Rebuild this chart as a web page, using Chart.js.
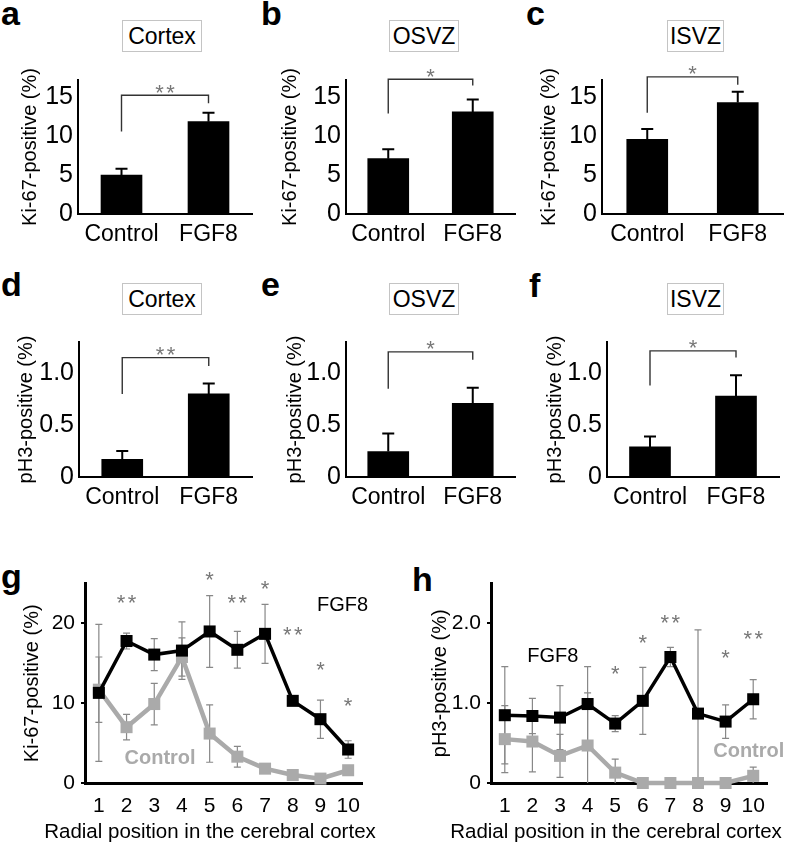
<!DOCTYPE html>
<html>
<head>
<meta charset="utf-8">
<script src="https://cdn.jsdelivr.net/npm/chart.js@4.4.1/dist/chart.umd.min.js"></script>
<style>
  html, body { margin: 0; padding: 0; background: #fff; }
  #fig { position: relative; width: 787px; height: 844px; overflow: hidden; font-family: "Liberation Sans", Arial, sans-serif; color: #000; }
  canvas { position: absolute; }
  .tag { position: absolute; font-weight: bold; font-size: 34px; line-height: 34px; }
  .region { position: absolute; box-sizing: border-box; height: 32px; border: 1px solid #c4c4c4; font-size: 23px; line-height: 30px; text-align: center; }
</style>
</head>
<body>
<div id="fig">
  <div class="tag" style="left:1px;top:-4px">a</div>
  <div class="tag" style="left:261px;top:-4px">b</div>
  <div class="tag" style="left:526px;top:-4px">c</div>
  <div class="tag" style="left:1px;top:267px">d</div>
  <div class="tag" style="left:261px;top:267px">e</div>
  <div class="tag" style="left:529px;top:268px">f</div>
  <div class="tag" style="left:1px;top:559px">g</div>
  <div class="tag" style="left:412px;top:562px">h</div>

  <div class="region" style="left:122px;top:20px;width:80px">Cortex</div>
  <div class="region" style="left:389px;top:20px;width:70px">OSVZ</div>
  <div class="region" style="left:667px;top:20px;width:57px">ISVZ</div>
  <div class="region" style="left:122px;top:283px;width:80px">Cortex</div>
  <div class="region" style="left:389px;top:283px;width:70px">OSVZ</div>
  <div class="region" style="left:667px;top:283px;width:57px">ISVZ</div>

  <canvas id="chartA" width="262" height="200" style="left:0px;top:60px"></canvas>
  <canvas id="chartB" width="262" height="200" style="left:262px;top:60px"></canvas>
  <canvas id="chartC" width="263" height="200" style="left:524px;top:60px"></canvas>
  <canvas id="chartD" width="262" height="200" style="left:0px;top:322px"></canvas>
  <canvas id="chartE" width="262" height="200" style="left:262px;top:322px"></canvas>
  <canvas id="chartF" width="263" height="200" style="left:524px;top:322px"></canvas>
  <canvas id="chartG" width="400" height="279" style="left:0px;top:565px"></canvas>
  <canvas id="chartH" width="387" height="279" style="left:400px;top:565px"></canvas>
</div>
<script>
Chart.defaults.font.family = '"Liberation Sans", Arial, sans-serif';
Chart.defaults.color = '#000';

// bar panels (a-f): mean and SEM for Control / FGF8
const groups = ['Control', 'FGF8'];
const ki67Cortex = [5.0, 11.85];
const ki67CortexErr = [0.8, 1.15];
const ki67Osvz = [7.1, 13.1];
const ki67OsvzErr = [1.2, 1.6];
const ki67Isvz = [9.6, 14.3];
const ki67IsvzErr = [1.3, 1.4];
const ph3Cortex = [0.17, 0.80];
const ph3CortexErr = [0.08, 0.10];
const ph3Osvz = [0.245, 0.71];
const ph3OsvzErr = [0.175, 0.15];
const ph3Isvz = [0.29, 0.78];
const ph3IsvzErr = [0.10, 0.20];
// significance brackets: [top, left end, right end] in axis units
const sigLabels = ['**', '*', '*', '**', '*', '*'];
const sigLevels = [[15.25, 10.6, 14.2], [17.3, 12.9, 16.5], [17.6, 13.0, 16.6],
                   [1.15, 0.80, 1.07], [1.205, 0.85, 1.13], [1.215, 0.88, 1.15]];

// line panels (g, h): radial position 1..10
const positions = ['1', '2', '3', '4', '5', '6', '7', '8', '9', '10'];
const ki67Fgf8 = [11.3, 17.8, 16.1, 16.6, 19.0, 16.7, 18.7, 10.3, 8.0, 4.2];
const ki67Fgf8Err = [8.6, 1.0, 2.0, 3.6, 4.5, 2.3, 3.7, 0.3, 2.4, 1.1];
const ki67Control = [11.7, 7.0, 9.9, 15.8, 6.2, 3.3, 1.8, 1.0, 0.55, 1.6];
const ki67ControlErr = [4.1, 1.6, 2.6, 2.4, 3.6, 1.3, 0.4, 0.3, 0.3, 0.4];
const ki67Stars = ['', '**', '', '', '*', '**', '*', '**', '*', '*'];
const ki67StarY = [0, 23.2, 0, 0, 26.1, 23.2, 25.0, 19.3, 14.8, 10.3];
const ph3Fgf8 = [0.85, 0.84, 0.82, 0.99, 0.745, 1.03, 1.58, 0.87, 0.77, 1.05];
const ph3Fgf8Err = [0.61, 0.22, 0.40, 0.47, 0.10, 0.42, 0.12, 1.05, 0.21, 0.245];
const ph3Control = [0.55, 0.52, 0.34, 0.47, 0.13, 0, 0, 0, 0, 0.09];
const ph3ControlErr = [0.42, 0.38, 0.27, 0.66, 0.17, 0, 0, 0, 0, 0.11];
const ph3Stars = ['', '', '', '', '*', '*', '**', '', '*', '**'];
const ph3StarY = [0, 0, 0, 0, 1.44, 1.83, 2.08, 0, 1.64, 1.88];

const FONT = '"Liberation Sans", Arial, sans-serif';

function drawStars(ctx, label, cx, cy) {
  const size = 22;
  ctx.save();
  ctx.fillStyle = '#777';
  ctx.font = size + 'px ' + FONT;
  ctx.textAlign = 'center';
  ctx.textBaseline = 'alphabetic';
  for (let i = 0; i < label.length; i++) {
    ctx.fillText('*', cx + (i - (label.length - 1) / 2) * 11, cy + 0.57 * size);
  }
  ctx.restore();
}

function drawErrorBars(chart, o) {
  const {ctx, chartArea} = chart;
  const y = chart.scales.y;
  ctx.save();
  ctx.beginPath();
  ctx.rect(chartArea.left - 10, chartArea.top - 40, chartArea.width + 20, chartArea.height + 40);
  ctx.clip();
  ctx.strokeStyle = o.color;
  ctx.lineWidth = o.width;
  chart.data.datasets.forEach((ds, i) => {
    if (!ds.err) return;
    chart.getDatasetMeta(i).data.forEach((el, j) => {
      const v = ds.data[j], e = ds.err[j];
      if (!e) return;
      const yt = y.getPixelForValue(v + e);
      const yb = y.getPixelForValue(o.up ? v : v - e);
      ctx.beginPath();
      ctx.moveTo(el.x, yb);
      ctx.lineTo(el.x, yt);
      ctx.moveTo(el.x - o.cap, yt);
      ctx.lineTo(el.x + o.cap, yt);
      if (!o.up) {
        ctx.moveTo(el.x - o.cap, yb);
        ctx.lineTo(el.x + o.cap, yb);
      }
      ctx.stroke();
    });
  });
  ctx.restore();
}

const errorBars = {
  id: 'errorBars',
  beforeDatasetsDraw(chart, args, o) { if (o.behind) drawErrorBars(chart, o); },
  afterDatasetsDraw(chart, args, o) { if (!o.behind) drawErrorBars(chart, o); }
};

const sigBracket = {
  id: 'sigBracket',
  afterDraw(chart, args, o) {
    const {ctx} = chart;
    const x = chart.scales.x, y = chart.scales.y;
    const x0 = x.getPixelForValue(0), x1 = x.getPixelForValue(1);
    const yt = y.getPixelForValue(o.levels[0]);
    ctx.save();
    ctx.strokeStyle = '#333';
    ctx.lineWidth = 1.4;
    ctx.beginPath();
    ctx.moveTo(x0, y.getPixelForValue(o.levels[1]));
    ctx.lineTo(x0, yt);
    ctx.lineTo(x1, yt);
    ctx.lineTo(x1, y.getPixelForValue(o.levels[2]));
    ctx.stroke();
    ctx.restore();
    drawStars(ctx, o.label, (x0 + x1) / 2, yt - 8);
  }
};

const curveNotes = {
  id: 'curveNotes',
  afterDraw(chart, args, o) {
    const {ctx} = chart;
    const x = chart.scales.x, y = chart.scales.y;
    o.stars.forEach((s, j) => {
      if (s) drawStars(ctx, s, x.getPixelForValue(j), y.getPixelForValue(o.starY[j]));
    });
    ctx.save();
    ctx.textAlign = 'center';
    ctx.textBaseline = 'middle';
    o.texts.forEach(t => {
      ctx.fillStyle = t.color;
      ctx.font = (t.bold ? 'bold ' : '') + '20px ' + FONT;
      ctx.fillText(t.text, x.getPixelForValue(t.x), y.getPixelForValue(t.y));
    });
    // x axis title, wider than the plot area in the original figure
    ctx.fillStyle = '#000';
    ctx.font = '20.5px ' + FONT;
    ctx.fillText(o.xTitle, o.xTitleX, chart.height - 12);
    ctx.restore();
  }
};

function barPanel(id, values, errs, k, yMax, yStep, yTitle, g) {
  new Chart(document.getElementById(id), {
    type: 'bar',
    data: {
      labels: groups,
      datasets: [{ data: values, err: errs, backgroundColor: '#000', barThickness: 41 }]
    },
    options: {
      responsive: false,
      animation: false,
      layout: { padding: { top: 15, right: g.right, left: 0, bottom: 0 } },
      plugins: {
        legend: { display: false },
        tooltip: { enabled: false },
        errorBars: { up: true, color: '#000', width: 2, cap: 6, behind: false },
        sigBracket: { label: sigLabels[k], levels: sigLevels[k] }
      },
      scales: {
        x: {
          grid: { display: false, drawTicks: false },
          border: { display: true, color: '#000', width: 2 },
          ticks: { font: { size: 23 }, padding: 7, color: '#000' },
          afterFit: s => { s.height = g.xh; }
        },
        y: {
          min: 0, max: yMax,
          grid: { display: false, drawTicks: false },
          border: { display: true, color: '#000', width: 2 },
          ticks: {
            stepSize: yStep, includeBounds: false, padding: 5, color: '#000',
            font: { size: 25 },
            callback: v => (v === 0 ? '0' : (yStep < 1 ? v.toFixed(1) : String(v)))
          },
          title: { display: true, text: yTitle, font: { size: 20 }, color: '#000', padding: { top: g.tp, bottom: 0 } },
          afterFit: s => { s.width = g.yw; }
        }
      }
    },
    plugins: [errorBars, sigBracket]
  });
}

barPanel('chartA', ki67Cortex, ki67CortexErr, 0, 17.2, 5, 'Ki-67-positive (%)', { yw: 78, right: 10, xh: 46, tp: 18 });
barPanel('chartB', ki67Osvz, ki67OsvzErr, 1, 17.2, 5, 'Ki-67-positive (%)', { yw: 84, right: 9, xh: 46, tp: 16 });
barPanel('chartC', ki67Isvz, ki67IsvzErr, 2, 17.2, 5, 'Ki-67-positive (%)', { yw: 78, right: 4, xh: 46, tp: 13 });
barPanel('chartD', ph3Cortex, ph3CortexErr, 3, 1.3, 0.5, 'pH3-positive (%)', { yw: 79, right: 10, xh: 45, tp: 14 });
barPanel('chartE', ph3Osvz, ph3OsvzErr, 4, 1.3, 0.5, 'pH3-positive (%)', { yw: 84, right: 9, xh: 45, tp: 21 });
barPanel('chartF', ph3Isvz, ph3IsvzErr, 5, 1.3, 0.5, 'pH3-positive (%)', { yw: 83, right: 8, xh: 45, tp: 19 });

function linePanel(id, fgf8, fgf8Err, ctrl, ctrlErr, stars, starY, yMax, yStep, yTitle, texts, g) {
  new Chart(document.getElementById(id), {
    type: 'line',
    data: {
      labels: positions,
      datasets: [
        { data: fgf8, err: fgf8Err, borderColor: '#000', backgroundColor: '#000', borderWidth: 3.5,
          pointStyle: 'rect', pointRadius: 8.5, pointBorderWidth: 0, tension: 0, clip: false },
        { data: ctrl, err: ctrlErr, borderColor: '#aaa', backgroundColor: '#aaa', borderWidth: 4.5,
          pointStyle: 'rect', pointRadius: 8.5, pointBorderWidth: 0, tension: 0, clip: false }
      ]
    },
    options: {
      responsive: false,
      animation: false,
      layout: { padding: { top: 18, right: g.right, left: 0, bottom: 0 } },
      plugins: {
        legend: { display: false },
        tooltip: { enabled: false },
        errorBars: { up: false, color: '#888', width: 1.2, cap: 3.5, behind: true },
        curveNotes: { stars: stars, starY: starY, texts: texts,
                      xTitle: 'Radial position in the cerebral cortex', xTitleX: g.tx }
      },
      scales: {
        x: {
          offset: true,
          grid: { display: false, drawTicks: false },
          border: { display: true, color: '#000', width: 3 },
          ticks: { font: { size: 21 }, padding: 11, color: '#000', autoSkip: false, maxRotation: 0 },
          afterFit: s => { s.height = 61; }
        },
        y: {
          min: 0, max: yMax,
          grid: { display: true, drawOnChartArea: false, drawTicks: true, tickLength: 4, color: '#000', lineWidth: 2 },
          border: { display: true, color: '#000', width: 3 },
          ticks: {
            stepSize: yStep, includeBounds: false, padding: 6, color: '#000',
            font: { size: 21 },
            callback: v => (v === 0 ? '0' : (yStep < 5 ? v.toFixed(1) : String(v)))
          },
          title: { display: true, text: yTitle, font: { size: 20 }, color: '#000', padding: { top: g.tp, bottom: 0 } },
          afterFit: s => { s.width = g.yw; }
        }
      }
    },
    plugins: [errorBars, curveNotes]
  });
}

linePanel('chartG', ki67Fgf8, ki67Fgf8Err, ki67Control, ki67ControlErr, ki67Stars, ki67StarY, 25, 10,
  'Ki-67-positive (%)',
  [{ text: 'FGF8', x: 8.8, y: 22.2, color: '#000', bold: false },
   { text: 'Control', x: 2.21, y: 3.1, color: '#aaa', bold: true }],
  { yw: 85, right: 38, tp: 20, tx: 210 });
linePanel('chartH', ph3Fgf8, ph3Fgf8Err, ph3Control, ph3ControlErr, ph3Stars, ph3StarY, 2.5, 1,
  'pH3-positive (%)',
  [{ text: 'FGF8', x: 1.74, y: 1.58, color: '#000', bold: false },
   { text: 'Control', x: 8.84, y: 0.40, color: '#aaa', bold: true }],
  { yw: 91, right: 20, tp: 28, tx: 216 });
</script>
</body>
</html>
